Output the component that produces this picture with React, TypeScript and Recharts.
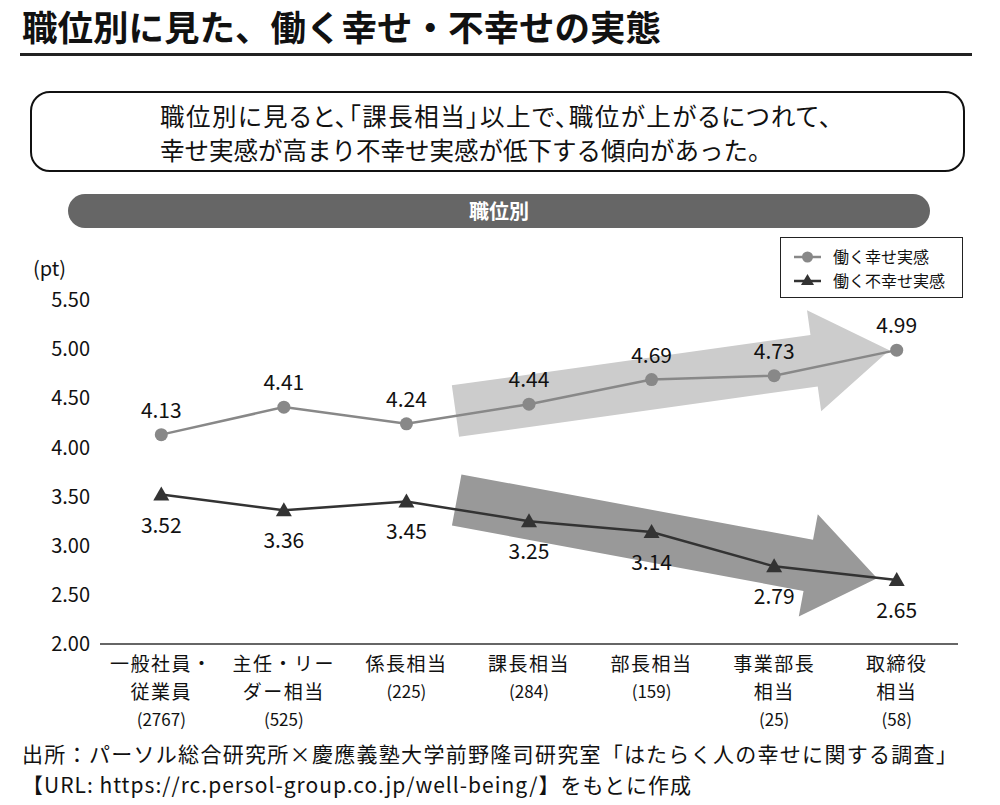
import React from 'react';
import { LineChart, Line, XAxis, YAxis, ReferenceLine, LabelList } from 'recharts';

const FONT = "'Noto Sans CJK JP', 'Noto Sans', sans-serif";

const categories = ['一般社員・従業員', '主任・リーダー相当', '係長相当', '課長相当', '部長相当', '事業部長相当', '取締役相当'];
const tickLines = [
  ['一般社員・', '従業員'],
  ['主任・リー', 'ダー相当'],
  ['係長相当'],
  ['課長相当'],
  ['部長相当'],
  ['事業部長', '相当'],
  ['取締役', '相当'],
];
const sampleSizes = ['(2767)', '(525)', '(225)', '(284)', '(159)', '(25)', '(58)'];
const happiness = [4.13, 4.41, 4.24, 4.44, 4.69, 4.73, 4.99];
const unhappiness = [3.52, 3.36, 3.45, 3.25, 3.14, 2.79, 2.65];
const yTicks = [2, 2.5, 3, 3.5, 4, 4.5, 5, 5.5];
const xTicks = [0, 1, 2, 3, 4, 5, 6];
const upArrow = [{ x: 2.4, y: 4.37 }, { x: 5.94, y: 4.99 }];
const downArrow = [{ x: 2.41, y: 3.465 }, { x: 5.84, y: 2.67 }];

const data = categories.map((c, i) => ({ idx: i, name: c, happy: happiness[i], unhappy: unhappiness[i] }));

const makeArrow = (fill: string, shaftHalf: number, headHalf: number, headLen: number) => (props: any) => {
  const { x1, y1, x2, y2 } = props;
  if ([x1, y1, x2, y2].some((v) => typeof v !== 'number' || isNaN(v))) return <g />;
  const dx = x2 - x1;
  const dy = y2 - y1;
  const len = Math.hypot(dx, dy);
  const ux = dx / len;
  const uy = dy / len;
  const nx = -uy;
  const ny = ux;
  const bx = x2 - ux * headLen;
  const by = y2 - uy * headLen;
  const pts = [
    [x1 + nx * shaftHalf, y1 + ny * shaftHalf],
    [bx + nx * shaftHalf, by + ny * shaftHalf],
    [bx + nx * headHalf, by + ny * headHalf],
    [x2, y2],
    [bx - nx * headHalf, by - ny * headHalf],
    [bx - nx * shaftHalf, by - ny * shaftHalf],
    [x1 - nx * shaftHalf, y1 - ny * shaftHalf],
  ];
  return <polygon points={pts.map((p) => p.join(',')).join(' ')} fill={fill} stroke="none" />;
};

const XTick = (props: any) => {
  const { x, y, payload } = props;
  const i = payload.value as number;
  const lines = tickLines[i] || [];
  const all = [...lines, sampleSizes[i]];
  return (
    <text x={x} y={y + 19} textAnchor="middle" fill="#111" fontFamily={FONT} fontSize={19}>
      {all.map((l, k) => {
        const isCount = k === all.length - 1;
        return (
          <tspan
            key={k}
            x={x}
            dy={k === 0 ? 0 : isCount ? 26.5 : 28}
            fontSize={isCount ? 17 : 19}
            letterSpacing={isCount ? 0 : 1.5}
          >
            {l}
          </tspan>
        );
      })}
    </text>
  );
};

const TriangleDot = (props: any) => {
  const { cx, cy } = props;
  if (typeof cx !== 'number' || typeof cy !== 'number') return <g />;
  return <polygon points={`${cx},${cy - 8} ${cx + 8},${cy + 6} ${cx - 8},${cy + 6}`} fill="#333" />;
};

const LegendBox = () => (
  <div
    style={{
      position: 'absolute',
      left: 780,
      top: 237,
      width: 183,
      height: 61,
      border: '1.5px solid #222',
      background: '#fff',
      boxSizing: 'border-box',
    }}
  >
    <svg width={180} height={58} style={{ display: 'block' }}>
      <line x1={13} y1={19} x2={40} y2={19} stroke="#888" strokeWidth={2.5} />
      <circle cx={26.5} cy={19} r={5.5} fill="#888" />
      <text x={52} y={25} fontSize={16} fill="#111" fontFamily={FONT}>働く幸せ実感</text>
      <line x1={13} y1={43} x2={40} y2={43} stroke="#333" strokeWidth={2.5} />
      <polygon points="26.5,36 33,47 20,47" fill="#333" />
      <text x={52} y={49} fontSize={16} fill="#111" fontFamily={FONT}>働く不幸せ実感</text>
    </svg>
  </div>
);

export default function App() {
  return (
    <div style={{ position: 'absolute', left: 0, top: 0, width: 1000, height: 805, background: '#fff', fontFamily: FONT }}>
      <div style={{ position: 'absolute', left: 0, top: 0 }}>
        <LineChart width={1000} height={805} data={data} margin={{ top: 300, right: 42, left: 0, bottom: 0 }}>
          <ReferenceLine segment={upArrow} shape={makeArrow('#cccccc', 26, 51, 76)} ifOverflow="visible" zIndex={50} />
          <ReferenceLine segment={downArrow} shape={makeArrow('#999999', 26, 52, 70)} ifOverflow="visible" zIndex={50} />
          <XAxis
            dataKey="idx"
            type="number"
            domain={[-0.5, 6.5]}
            ticks={xTicks}
            interval={0}
            height={161}
            tickLine={false}
            axisLine={{ stroke: '#333', strokeWidth: 1.5 }}
            tick={<XTick />}
            allowDecimals
          />
          <YAxis
            type="number"
            domain={[2, 5.5]}
            ticks={yTicks}
            width={100}
            axisLine={false}
            tickLine={false}
            tickMargin={4}
            tickFormatter={(v: number) => v.toFixed(2)}
            tick={{ fontSize: 20, fill: '#111', fontFamily: FONT }}
          />
          <Line
            dataKey="happy"
            stroke="#888"
            strokeWidth={2.5}
            dot={{ r: 6.5, fill: '#888', stroke: 'none' }}
            activeDot={false}
            isAnimationActive={false}
          >
            <LabelList
              dataKey="happy"
              position="top"
              offset={17}
              formatter={(v: any) => Number(v).toFixed(2)}
              style={{ fontSize: 21, fill: '#111', fontFamily: FONT }}
            />
          </Line>
          <Line
            dataKey="unhappy"
            stroke="#333"
            strokeWidth={2.5}
            dot={<TriangleDot />}
            activeDot={false}
            isAnimationActive={false}
          >
            <LabelList
              dataKey="unhappy"
              position="bottom"
              offset={23}
              formatter={(v: any) => Number(v).toFixed(2)}
              style={{ fontSize: 21, fill: '#111', fontFamily: FONT }}
            />
          </Line>
        </LineChart>
      </div>

      <LegendBox />

      <div style={{ position: 'absolute', left: 22, top: 3, fontSize: 35.5, fontWeight: 700, color: '#111', whiteSpace: 'nowrap', lineHeight: '46px' }}>
        職位別に見た、働く幸せ・不幸せの実態
      </div>
      <div style={{ position: 'absolute', left: 20, top: 53, width: 952, height: 3, background: '#222' }} />

      <div
        style={{
          position: 'absolute',
          left: 30,
          top: 91,
          width: 935,
          height: 81,
          border: '2px solid #111',
          borderRadius: 20,
          boxSizing: 'border-box',
          background: '#fff',
        }}
      />
      <div style={{ position: 'absolute', left: 160, top: 99, fontSize: 24.5, lineHeight: '34px', color: '#111', whiteSpace: 'nowrap' }}>
        <div style={{ fontFeatureSettings: '"palt"', letterSpacing: 1.5 }}>職位別に見ると、「課長相当」以上で、職位が上がるにつれて、</div>
        <div>幸せ実感が高まり不幸せ実感が低下する傾向があった。</div>
      </div>

      <div
        style={{
          position: 'absolute',
          left: 68,
          top: 194,
          width: 862,
          height: 34,
          borderRadius: 17,
          background: '#666',
          color: '#fff',
          fontSize: 20,
          fontWeight: 700,
          textAlign: 'center',
          lineHeight: '34px',
        }}
      >
        職位別
      </div>

      <div style={{ position: 'absolute', left: 33, top: 255, fontSize: 20, color: '#111', lineHeight: '26px' }}>(pt)</div>

      <div style={{ position: 'absolute', left: 22, top: 738, fontSize: 21, letterSpacing: 1.3, color: '#111', lineHeight: '30.5px', whiteSpace: 'nowrap' }}>
        出所：パーソル総合研究所×慶應義塾大学前野隆司研究室「はたらく人の幸せに関する調査」
      </div>
      <div style={{ position: 'absolute', left: 22, top: 769, fontSize: 21, letterSpacing: 1.0, color: '#111', lineHeight: '30.5px', whiteSpace: 'nowrap' }}>
        【URL: https://rc.persol-group.co.jp/well-being/】をもとに作成
      </div>
    </div>
  );
}
